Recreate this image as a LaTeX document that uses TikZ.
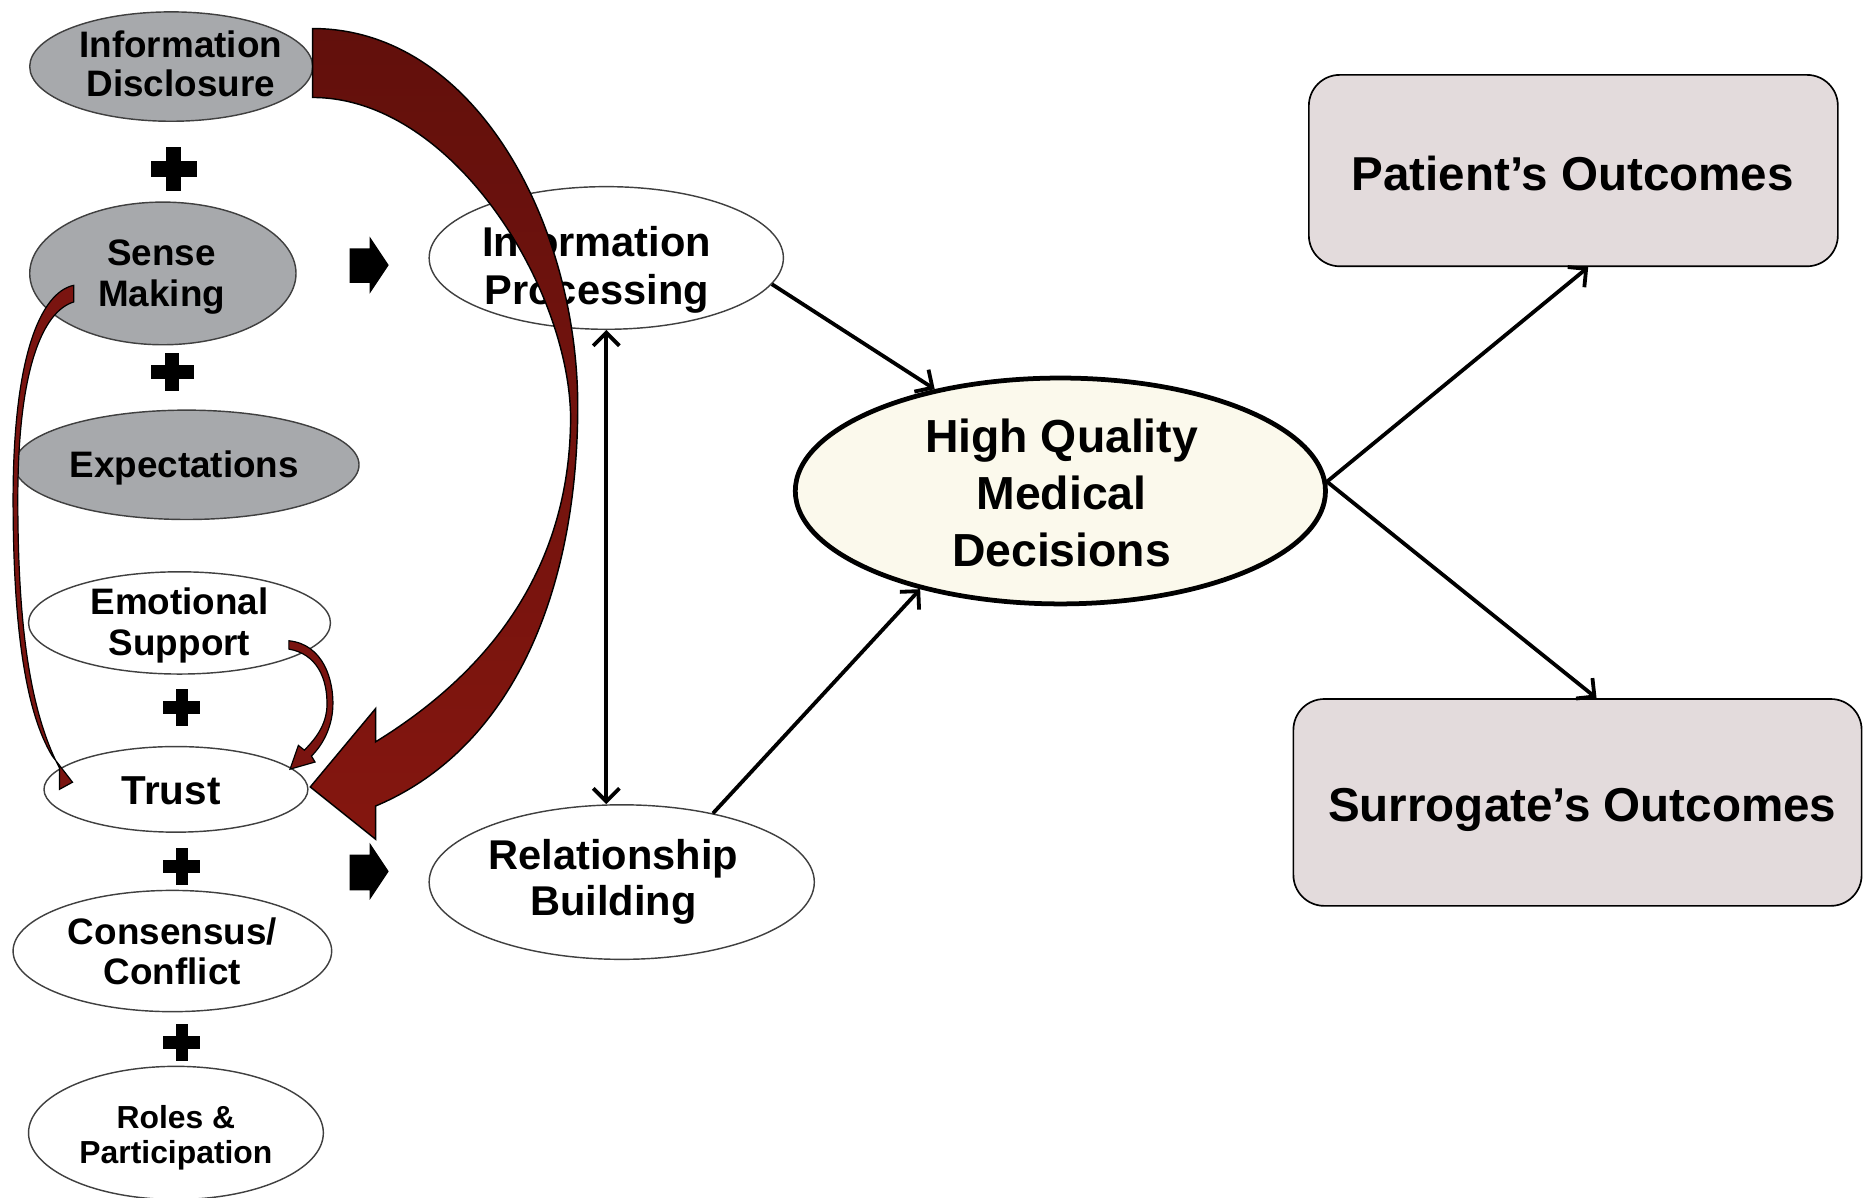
\documentclass[tikz,border=0pt]{standalone}
\usepackage{fontspec}
\setmainfont{Liberation Sans}
\usetikzlibrary{arrows.meta,calc,shapes.geometric}
\definecolor{ellgray}{HTML}{A7A9AC}
\definecolor{hqfill}{HTML}{FBF9EC}
\definecolor{boxfill}{HTML}{E3DBDC}
\definecolor{redA}{HTML}{62100C}
\definecolor{redB}{HTML}{84160F}
\definecolor{redC}{HTML}{7A1410}
\begin{document}
\begin{tikzpicture}[x=0.5pt,y=-0.5pt,
  ell/.style={ellipse, draw=black!75, line width=0.6pt, inner sep=0pt},
  grayell/.style={ell, fill=ellgray},
  whiteell/.style={ell, fill=white},
  txt/.style={align=center, inner sep=0pt, font=\bfseries\fontsize{15.5}{17}\selectfont},
  outbox/.style={rectangle, rounded corners=13pt, draw=black, line width=0.7pt, fill=boxfill, inner sep=0pt},
  conn/.style={line width=1.6pt, -{Straight Barb[length=5.5pt,width=11pt]}},
  redarrow/.style={draw=black, line width=0.5pt, fill=redC},
  plussign/.pic={\fill (-15.5,-5.5) rectangle (15.5,5.5); \fill (-5,-15.5) rectangle (5,15.5);}
]
\useasboundingbox (0,0) rectangle (1568,1007);

% left column ellipses
\node[grayell, minimum width=119pt, minimum height=46pt] (disc) at (144,56) {};
\node[txt, font=\bfseries\fontsize{15.5}{16.5}\selectfont] (disct) at (152,54) {Information\\Disclosure};
\node[grayell, minimum width=112pt, minimum height=60pt] (sense) at (137,230) {};
\node[txt] (senset) at (136,233) {Sense\\Making};
\node[grayell, minimum width=145pt, minimum height=46pt] (expect) at (157,391) {};
\node[txt] (expectt) at (155,394) {Expectations};
\node[whiteell, minimum width=127pt, minimum height=43pt] (emo) at (151,524) {};
\node[txt] (emot) at (151,526) {Emotional\\Support};
\node[whiteell, minimum width=111pt, minimum height=36pt] (trust) at (148,664) {};
\node[txt, font=\bfseries\fontsize{17}{20}\selectfont] (trustt) at (144,665) {Trust};
\node[whiteell, minimum width=134pt, minimum height=51pt] (cons) at (145,800) {};
\node[txt] (const) at (145,800) {Consensus/\\Conflict};
\node[whiteell, minimum width=124pt, minimum height=56pt] (roles) at (148,953) {};
\node[txt, font=\bfseries\fontsize{13.4}{15}\selectfont] (rolest) at (148,957) {Roles \&\\Participation};

% plus signs
\pic[xscale=1.25, yscale=1.2] (plus1) at (146,142) {plussign};
\pic[xscale=1.18, yscale=1.05] (plus2) at (145,313) {plussign};
\pic (plus3) at (153,595) {plussign};
\pic (plus4) at (153,729) {plussign};
\pic (plus5) at (153,877) {plussign};

% block arrows
\fill (294,209) -- (311,209) -- (311,199) -- (327,223) -- (311,247) -- (311,238) -- (294,238) -- cycle;
\fill (294,719) -- (311,719) -- (311,709) -- (327,733) -- (311,757) -- (311,749) -- (294,749) -- cycle;

% middle nodes
\node[whiteell, minimum width=149pt, minimum height=60pt] (ip) at (510,217) {};
\node[txt, font=\bfseries\fontsize{17.5}{20}\selectfont] (ipt) at (502,227) {Information\\Processing};
\node[whiteell, minimum width=162pt, minimum height=65pt] (rb) at (523,742) {};
\node[txt, font=\bfseries\fontsize{17.5}{19.5}\selectfont] (rbt) at (516,742) {Relationship\\Building};

\node[ellipse, draw=black, line width=2pt, fill=hqfill, inner sep=0pt, minimum width=223pt, minimum height=95pt] (hq) at (892,413) {};
\node[txt, font=\bfseries\fontsize{19.5}{24}\selectfont] (hqt) at (893,415) {High Quality\\Medical\\Decisions};

% outcome boxes
\node[outbox, minimum width=222.5pt, minimum height=80.5pt] (pat) at (1323.5,143.5) {};
\node[txt, font=\bfseries\fontsize{20}{24}\selectfont] (patt) at (1323,146) {Patient’s Outcomes};
\node[outbox, minimum width=239pt, minimum height=87pt] (sur) at (1327,675) {};
\node[txt, font=\bfseries\fontsize{20}{24}\selectfont] (surt) at (1331,681) {Surrogate’s Outcomes};

% big red arrow
\path[draw=black, line width=0.6pt, top color=redA, bottom color=redB]
  (263,24) .. controls (400,24) and (487,190) .. (486,345)
  .. controls (485,500) and (430,630) .. (316,678)
  -- (316,706) -- (261,662) -- (316,596) -- (316,624)
  .. controls (420,560) and (480,470) .. (480,350)
  .. controls (478,240) and (380,82) .. (263,82) -- cycle;

% small red arrows
\path[redarrow] (62,240) .. controls (34,246) and (11,300) .. (11,420)
  .. controls (11,530) and (22,600) .. (44,636) -- (61,658) -- (50,664) -- (50,646)
  .. controls (26,600) and (15,530) .. (15,420)
  .. controls (15,310) and (36,262) .. (62,254) -- cycle;
\path[redarrow] (243,539) .. controls (272,542) and (281,572) .. (280,595)
  .. controls (279,612) and (272,626) .. (262,636) -- (265,641) -- (244,647) -- (251,627) -- (256,631)
  .. controls (266,621) and (274,610) .. (275,595)
  .. controls (276,570) and (266,550) .. (243,546) -- cycle;

% black connectors
\draw[conn, {Straight Barb[length=5.5pt,width=11pt]}-{Straight Barb[length=5.5pt,width=11pt]}] (ip.south) -- (ip.south |- rb.north);
\draw[conn] (ip.-9) -- (hq.141);
\draw[conn] (rb.37) -- (hq.215);
\draw[conn] (hq.2) -- ([xshift=6.25pt]pat.south);
\draw[conn] (hq.2) -- ([xshift=8pt]sur.north);
\end{tikzpicture}
\end{document}
